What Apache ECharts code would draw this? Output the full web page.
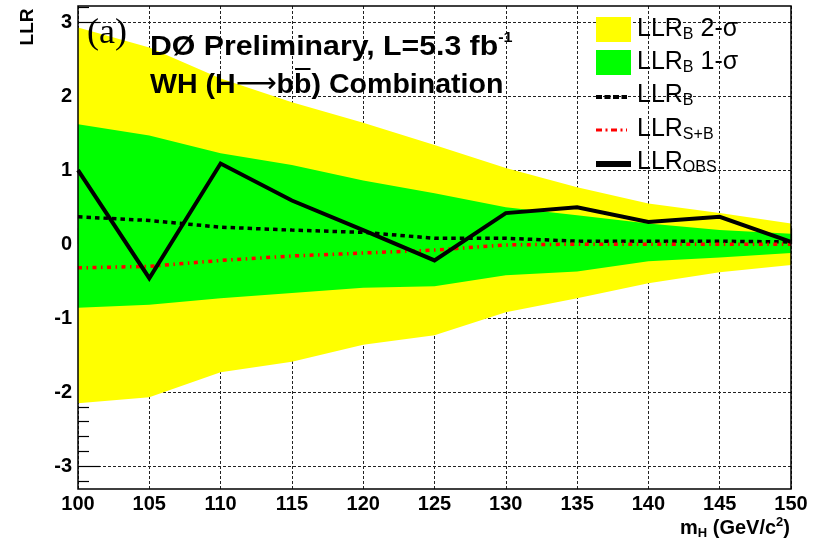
<!DOCTYPE html>
<html>
<head>
<meta charset="utf-8">
<script src="https://cdn.jsdelivr.net/npm/echarts@6/dist/echarts.min.js"></script>
<style>
  html, body { margin: 0; padding: 0; background: #ffffff; }
  #chart { width: 817px; height: 540px; }
</style>
</head>
<body>
<div id="chart"></div>
<script>
// Higgs mass hypotheses (GeV/c^2)
const massPoints = [100, 105, 110, 115, 120, 125, 130, 135, 140, 145, 150];

// Background-only expectation bands
const llrB2SigmaUp = [2.93, 2.66, 2.24, 1.92, 1.64, 1.34, 1.03, 0.77, 0.55, 0.42, 0.28];
const llrB2SigmaDn = [-2.15, -2.07, -1.73, -1.59, -1.36, -1.23, -0.92, -0.73, -0.53, -0.38, -0.28];
const llrB1SigmaUp = [1.62, 1.47, 1.23, 1.07, 0.86, 0.69, 0.50, 0.39, 0.28, 0.19, 0.14];
const llrB1SigmaDn = [-0.86, -0.82, -0.73, -0.66, -0.59, -0.57, -0.42, -0.37, -0.23, -0.18, -0.12];

// Expected and observed log-likelihood ratios
const llrB = [0.37, 0.32, 0.23, 0.19, 0.16, 0.08, 0.08, 0.04, 0.04, 0.04, 0.03];
const llrSB = [-0.32, -0.30, -0.22, -0.16, -0.12, -0.08, -0.01, 0.0, 0.0, 0.0, 0.0];
const llrObs = [1.00, -0.46, 1.09, 0.59, 0.19, -0.22, 0.42, 0.50, 0.30, 0.37, 0.03];

// Axis ticks
const xTickLabels = [100, 105, 110, 115, 120, 125, 130, 135, 140, 145, 150];
const yTickLabels = [-3, -2, -1, 0, 1, 2, 3];

const SANS = '"Liberation Sans", Arial, Helvetica, sans-serif';
const SERIF = '"Liberation Serif", "Times New Roman", serif';
const Y_MIN = -3.31, Y_MAX = 3.22;

// minor ticks every 0.2 on the y axis
const yMinor = [];
for (let v = -3.2; v <= 3.21; v += 0.2) {
  const r = Math.round(v * 10) / 10;
  if (Math.abs(r - Math.round(r)) > 1e-6) yMinor.push(r);
}

const GRID = { left: 78, right: 26, top: 6, bottom: 51 };
const plotW = 817 - GRID.left - GRID.right;
const plotH = 540 - GRID.top - GRID.bottom;

const gridLine = { show: true, lineStyle: { color: '#222', width: 1, type: [3, 2] } };

function band(name, upper, lower, color, z) {
  return {
    type: 'custom',
    name: name,
    z: z,
    silent: true,
    data: massPoints.map((m, i) => [m, upper[i], lower[i]]),
    encode: { x: 0, y: [1, 2] },
    renderItem: function (params, api) {
      if (params.dataIndex !== 0) return null;
      const pts = [];
      for (let i = 0; i < massPoints.length; i++) pts.push(api.coord([massPoints[i], upper[i]]));
      for (let i = massPoints.length - 1; i >= 0; i--) pts.push(api.coord([massPoints[i], lower[i]]));
      return { type: 'polygon', shape: { points: pts }, style: { fill: color, stroke: null } };
    }
  };
}

function curve(name, values, lineStyle, z) {
  return {
    type: 'line',
    name: name,
    z: z,
    silent: true,
    symbol: 'none',
    animation: false,
    data: massPoints.map((m, i) => [m, values[i]]),
    lineStyle: lineStyle
  };
}

// position of the bar over the anti-b quark
const measureCtx = document.createElement('canvas').getContext('2d');
function textWidth(str, font) { measureCtx.font = font; return measureCtx.measureText(str).width; }
const TITLE_X = 150;
const LINE2_SCALE = 1.02;
const titleFont = 'bold 28px ' + SANS;
const arrowFont = '28px "DejaVu Sans", ' + SANS;
const barX0 = TITLE_X + LINE2_SCALE * (textWidth('WH (H', titleFont) + textWidth('\u27f6', arrowFont) + textWidth('b', titleFont));
const barW = LINE2_SCALE * textWidth('b', titleFont);

function legendText(y, txt) {
  return {
    type: 'text', x: 637, y: y, z: 100, silent: true,
    style: {
      text: txt, align: 'left', verticalAlign: 'middle', fill: '#000',
      rich: {
        m: { fontFamily: SANS, fontSize: 25, lineHeight: 28, fill: '#000', verticalAlign: 'middle' },
        s: { fontFamily: SANS, fontSize: 16, lineHeight: 10, fill: '#000', verticalAlign: 'bottom' }
      }
    }
  };
}

const chart = echarts.init(document.getElementById('chart'), null, { renderer: 'canvas' });
chart.setOption({
  animation: false,
  backgroundColor: '#ffffff',
  grid: { left: GRID.left, right: GRID.right, top: GRID.top, bottom: GRID.bottom, containLabel: false, outerBoundsMode: 'none' },
  xAxis: [{
    type: 'value', position: 'bottom', min: 100, max: 150, interval: 5,
    axisLine: { show: false },
    axisTick: { show: true, inside: true, length: 16, lineStyle: { color: '#000', width: 1.2 } },
    minorTick: { show: true, splitNumber: 5, length: 8, lineStyle: { color: '#000', width: 1.2 } },
    axisLabel: {
      show: true, margin: 5, color: '#000', fontFamily: SANS, fontSize: 20, fontWeight: 'bold',
      customValues: xTickLabels, formatter: (v) => String(v)
    },
    splitLine: gridLine,
    minorSplitLine: { show: false }
  }],
  yAxis: [{
    type: 'value', position: 'left', min: Y_MIN, max: Y_MAX,
    axisLine: { show: false },
    axisTick: { show: true, inside: true, length: 22, customValues: yTickLabels, lineStyle: { color: '#000', width: 1.2 } },
    axisLabel: {
      show: true, margin: 6, color: '#000', fontFamily: SANS, fontSize: 20, fontWeight: 'bold',
      customValues: yTickLabels, formatter: (v) => String(v)
    },
    splitLine: gridLine
  }, {
    type: 'value', position: 'left', min: Y_MIN, max: Y_MAX,
    axisLine: { show: false },
    axisTick: { show: true, inside: true, length: 11, customValues: yMinor, lineStyle: { color: '#000', width: 1.2 } },
    axisLabel: { show: false },
    splitLine: { show: false }
  }],
  series: [
    band('LLR_B 2-sigma', llrB2SigmaUp, llrB2SigmaDn, '#ffff00', 2),
    band('LLR_B 1-sigma', llrB1SigmaUp, llrB1SigmaDn, '#00ff00', 3),
    curve('LLR_B', llrB, { color: '#000000', width: 3.5, type: [4.5, 4] }, 4),
    curve('LLR_S+B', llrSB, { color: '#ff0000', width: 3.5, type: [4, 4.5, 1.5, 4.5] }, 5),
    curve('LLR_OBS', llrObs, { color: '#000000', width: 4, join: 'miter' }, 6)
  ],
  graphic: [
    // frame
    { type: 'rect', z: 100, silent: true,
      shape: { x: GRID.left, y: GRID.top, width: plotW, height: plotH },
      style: { fill: 'none', stroke: '#000', lineWidth: 1.5 } },
    // panel label
    { type: 'text', x: 87, y: 34, z: 100, silent: true,
      style: { text: '(a)', font: '36px ' + SERIF, fill: '#000', align: 'left', verticalAlign: 'middle' } },
    // experiment title
    { type: 'text', x: TITLE_X, y: 47, scaleX: 1.08, z: 100, silent: true,
      style: {
        text: '{a|D\u00d8 Preliminary, L=5.3 fb}{p|-1}', align: 'left', verticalAlign: 'middle',
        rich: {
          a: { fontFamily: SANS, fontSize: 28, fontWeight: 'bold', lineHeight: 34, fill: '#000', verticalAlign: 'middle' },
          p: { fontFamily: SANS, fontSize: 15, fontWeight: 'bold', lineHeight: 16, fill: '#000', verticalAlign: 'top' }
        }
      } },
    { type: 'text', x: TITLE_X, y: 85, scaleX: LINE2_SCALE, z: 100, silent: true,
      style: {
        text: '{a|WH (H}{r|\u27f6}{a|bb) Combination}', align: 'left', verticalAlign: 'middle',
        rich: {
          a: { fontFamily: SANS, fontSize: 28, fontWeight: 'bold', lineHeight: 34, fill: '#000', verticalAlign: 'middle' },
          r: { fontFamily: '"DejaVu Sans", ' + SANS, fontSize: 28, fontWeight: 'normal', lineHeight: 34, fill: '#000', verticalAlign: 'middle' }
        }
      } },
    { type: 'line', z: 100, silent: true,
      shape: { x1: barX0 + 1, y1: 69, x2: barX0 + barW - 1, y2: 69 },
      style: { stroke: '#000', lineWidth: 2 } },
    // y axis title
    { type: 'text', x: 28, y: 27, rotation: Math.PI / 2, z: 100, silent: true,
      style: { text: 'LLR', font: 'bold 19px ' + SANS, fill: '#000', align: 'center', verticalAlign: 'middle' } },
    // x axis title
    { type: 'text', x: 790, y: 528, z: 100, silent: true,
      style: {
        text: '{m|m}{s|H}{m| (GeV/c}{p|2}{m|)}', align: 'right', verticalAlign: 'middle',
        rich: {
          m: { fontFamily: SANS, fontSize: 20, fontWeight: 'bold', lineHeight: 24, fill: '#000', verticalAlign: 'middle' },
          s: { fontFamily: SANS, fontSize: 13, fontWeight: 'bold', lineHeight: 12, fill: '#000', verticalAlign: 'bottom' },
          p: { fontFamily: SANS, fontSize: 13, fontWeight: 'bold', lineHeight: 6, fill: '#000', verticalAlign: 'top' }
        }
      } },
    // legend keys
    { type: 'rect', z: 100, silent: true, shape: { x: 596, y: 17, width: 35, height: 25 }, style: { fill: '#ffff00' } },
    { type: 'rect', z: 100, silent: true, shape: { x: 596, y: 50, width: 35, height: 25 }, style: { fill: '#00ff00' } },
    { type: 'line', z: 100, silent: true, shape: { x1: 596, y1: 97, x2: 627, y2: 97 },
      style: { stroke: '#000', lineWidth: 4, lineDash: [6, 2.5] } },
    { type: 'line', z: 100, silent: true, shape: { x1: 596, y1: 130, x2: 627, y2: 130 },
      style: { stroke: '#ff0000', lineWidth: 3, lineDash: [6, 3.5, 2, 3.5] } },
    { type: 'line', z: 100, silent: true, shape: { x1: 596, y1: 164, x2: 631, y2: 164 },
      style: { stroke: '#000', lineWidth: 6 } },
    legendText(29, '{m|LLR}{s|B}{m| 2-\u03c3}'),
    legendText(62, '{m|LLR}{s|B}{m| 1-\u03c3}'),
    legendText(95, '{m|LLR}{s|B}'),
    legendText(129, '{m|LLR}{s|S+B}'),
    legendText(162, '{m|LLR}{s|OBS}')
  ]
});
</script>
</body>
</html>
